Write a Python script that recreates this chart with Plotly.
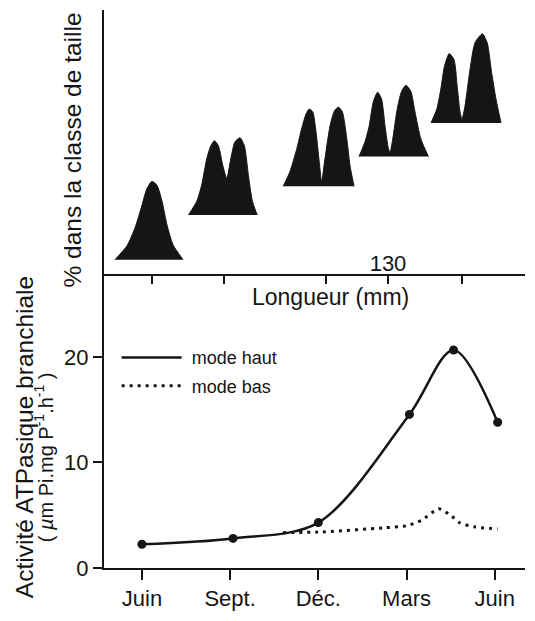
import plotly.graph_objects as go

# distributions de taille (longueur en mm, hauteur relative dans la classe)
long_1 = [61.75, 64.75, 66.75, 68.5, 69.75, 71, 72.25, 73.5, 74.75, 76.25, 78.75]
haut_1 = [15, 29, 47, 70, 87, 94, 90, 74, 50, 30, 15]

long_2 = [80.1, 82.2, 83.4, 84.7, 85.7, 86.6, 87.6, 88.7, 89.7, 90.7, 91.75, 93, 94.1, 95.1, 96.1, 97.3]
haut_2 = [60, 74, 90, 117, 130, 135, 130, 110, 97, 117, 134, 138, 130, 100, 74, 60]

long_3 = [103.8, 105.5, 107.2, 108.4, 109.5, 110.3, 111.2, 112, 112.8, 113.4, 114.25, 115.5, 116.6,
          117.6, 118.6, 119.7, 120.5, 121.5]
haut_3 = [89, 104, 127, 147, 162, 167, 164, 144, 114, 94, 117, 150, 165, 169, 164, 137, 110, 89]

long_4 = [122.75, 124.25, 125.3, 126.3, 127.4, 128.4, 129.25, 130.1, 130.5, 131.2, 132.3, 133.4,
          134.5, 135.7, 136.75, 138.2, 140.1]
haut_4 = [119, 134, 150, 174, 184, 177, 150, 127, 123, 137, 167, 185, 191, 185, 164, 137, 119]

long_5 = [140.75, 142.2, 143.2, 144.1, 145.3, 146.5, 147.3, 148, 148.5, 149.25, 150.5, 151.75,
          153.6, 154.8, 155.9, 157, 158.25]
haut_5 = [153, 167, 187, 210, 223, 217, 190, 164, 157, 170, 207, 234, 243, 234, 204, 177, 153]

long_ticks = [71, 89, 114.5, 130, 148.5]
long_labels = ["", "", "", "130", ""]

# activite ATPasique
mois = [0, 3, 6, 9, 12]
mois_labels = ["Juin", "Sept.", "Déc.", "Mars", "Juin"]

x_haut = [0, 3.1, 6.0, 9.1, 10.6, 12.1]
y_haut = [2.25, 2.8, 4.3, 14.55, 20.65, 13.8]

x_bas = [4.8, 6.0, 8.2, 9.0, 9.5, 10.1, 10.5, 10.8, 11.3, 12.1]
y_bas = [3.35, 3.4, 3.8, 4.0, 4.5, 5.6, 5.0, 4.3, 3.9, 3.7]

ink = "#151515"
police = "Liberation Sans, Arial, Helvetica, sans-serif"

fig = go.Figure()

for lx, ly in [(long_1, haut_1), (long_2, haut_2), (long_3, haut_3), (long_4, haut_4), (long_5, haut_5)]:
    fig.add_trace(go.Scatter(x=lx, y=ly, xaxis="x", yaxis="y", mode="lines", fill="toself",
                             fillcolor=ink, line=dict(color=ink, width=1, shape="spline", smoothing=0.6),
                             showlegend=False, hoverinfo="skip"))

fig.add_trace(go.Scatter(x=x_haut, y=y_haut, xaxis="x2", yaxis="y2", mode="lines", name=" mode haut",
                         legendgroup="a", line=dict(color=ink, width=2.5, shape="spline", smoothing=0.9)))
fig.add_trace(go.Scatter(x=x_haut, y=y_haut, xaxis="x2", yaxis="y2", mode="markers",
                         marker=dict(color=ink, size=9), showlegend=False))
fig.add_trace(go.Scatter(x=x_bas, y=y_bas, xaxis="x2", yaxis="y2", mode="lines", name=" mode bas",
                         legendgroup="b", line=dict(color=ink, width=3, dash="3px,5px", shape="spline", smoothing=0.6)))

axe = dict(showline=True, linecolor=ink, linewidth=2, showgrid=False, zeroline=False,
           tickcolor=ink, tickwidth=2, tickfont=dict(family=police, size=22, color=ink))

fig.update_layout(
    width=535, height=621,
    margin=dict(l=104, r=10, t=10, b=48),
    plot_bgcolor="white", paper_bgcolor="white",
    font=dict(family=police, color=ink),
    xaxis=dict(axe, domain=[0, 1], anchor="y", range=[59, 164.25], ticks="outside", ticklen=8,
               tickvals=long_ticks, ticktext=long_labels, ticklabelposition="inside"),
    yaxis=dict(axe, domain=[0.526, 1], anchor="x", range=[0, 267], showticklabels=False, ticks=""),
    xaxis2=dict(axe, domain=[0, 1], anchor="y2", range=[-1.29, 13.03], ticks="outside", ticklen=10,
                tickvals=mois, ticktext=mois_labels),
    yaxis2=dict(axe, domain=[0, 0.526], anchor="x2", range=[0, 27.8], ticks="outside", ticklen=9,
                tickvals=[0, 10, 20]),
    showlegend=True,
    legend=dict(x=0.03, y=0.41, xanchor="left", yanchor="top", itemwidth=60, tracegroupgap=2,
                font=dict(family=police, size=18, color=ink), bgcolor="rgba(0,0,0,0)"),
    annotations=[
        dict(text="Longueur (mm)", x=0.537, y=0.485, xref="paper", yref="paper", showarrow=False,
             xanchor="center", yanchor="middle", font=dict(size=23)),
        dict(text="% dans la classe de taille", x=-0.074, y=0.7496, xref="paper", yref="paper",
             showarrow=False, textangle=-90, xanchor="center", yanchor="middle", font=dict(size=24.5)),
        dict(text="Activité ATPasique branchiale", x=-0.19, y=0.2345, xref="paper", yref="paper",
             showarrow=False, textangle=-90, xanchor="center", yanchor="middle", font=dict(size=24.5)),
        dict(text="( <i>µ</i>m Pi.mg P<sup>-1</sup>.h<sup>-1</sup> )", x=-0.143, y=0.198,
             xref="paper", yref="paper", showarrow=False, textangle=-90, xanchor="center",
             yanchor="middle", font=dict(size=20)),
    ],
)

fig.write_html("out.html", config={"displayModeBar": False},
               post_script="document.body.style.margin='0';")
